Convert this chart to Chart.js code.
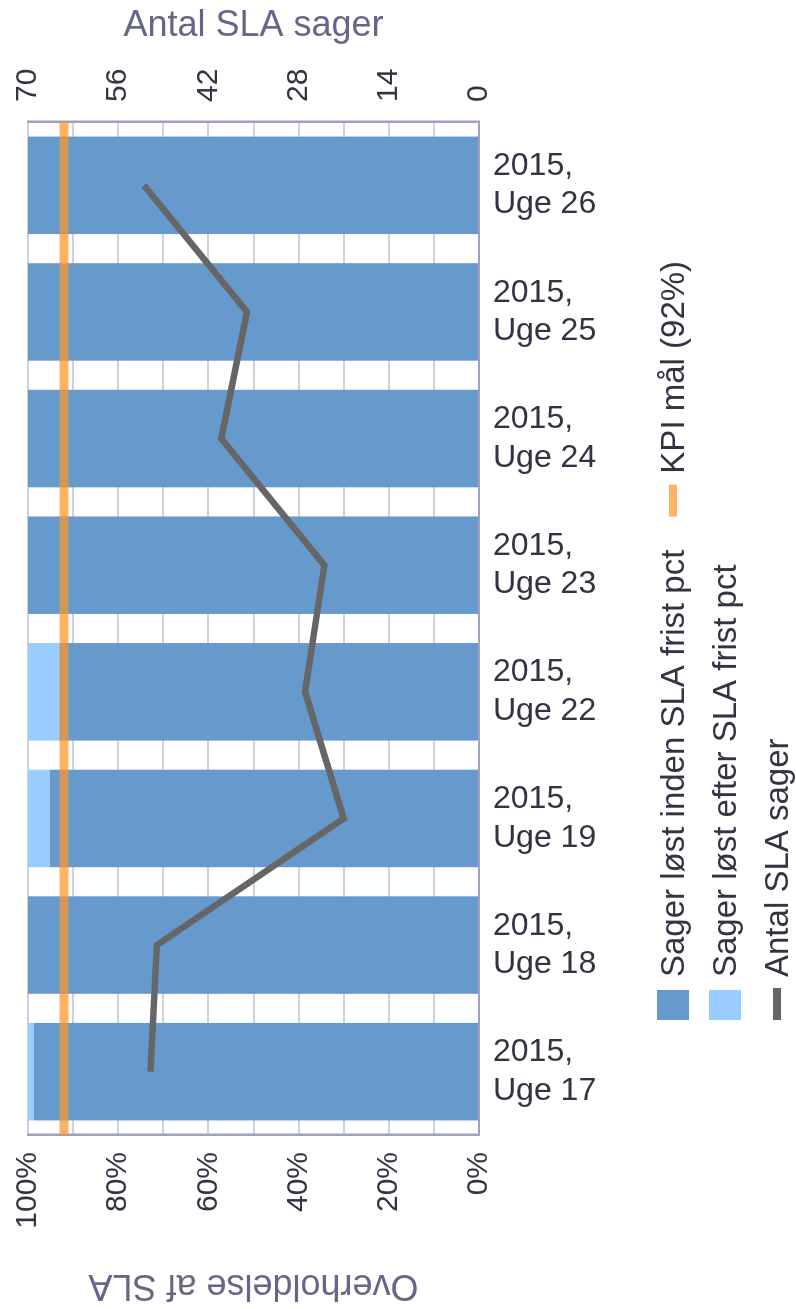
<!DOCTYPE html>
<html>
<head>
<meta charset="utf-8">
<script src="https://cdn.jsdelivr.net/npm/chart.js@4/dist/chart.umd.min.js"></script>
<style>
  html, body { margin: 0; padding: 0; background: #fff; overflow: hidden; }
  body { width: 796px; height: 1309px; position: relative; }
  /* the chart is laid out as a normal column chart and then turned a quarter left */
  #wrap {
    position: absolute; left: 0; top: 0;
    width: 1309px; height: 796px;
    transform-origin: 0 0;
    transform: translate(0, 1309px) rotate(-90deg);
  }
</style>
</head>
<body>
<div id="wrap"><canvas id="chart" width="1309" height="796"></canvas></div>
<script>
// data, left to right in the unrotated chart
const weeks = [
  ["2015,", "Uge 17"], ["2015,", "Uge 18"], ["2015,", "Uge 19"], ["2015,", "Uge 22"],
  ["2015,", "Uge 23"], ["2015,", "Uge 24"], ["2015,", "Uge 25"], ["2015,", "Uge 26"]
];
const losInden = [98.7, 100, 95.2, 93.0, 100, 100, 100, 100];
const losEfter = [1.3, 0, 4.8, 7.0, 0, 0, 0, 0];
const antalSager = [51, 50, 21, 27, 24, 40, 36, 52];
const kpiMaal = 92;
const pctTicks = [0, 20, 40, 60, 80, 100];
const antalTicks = [0, 14, 28, 42, 56, 70];

const FONT = "'Liberation Sans', Arial, sans-serif";
Chart.defaults.font.family = FONT;

const textDark = "#333344";
const titleColor = "#666688";
const darkBlue = "#6699cc";
const lightBlue = "#99ccff";
const lineGray = "#666666";
const kpiColor = "rgba(251,149,40,0.72)";

const legendItems = [
  { row: 0, text: "Sager løst inden SLA frist pct", kind: "box", color: darkBlue },
  { row: 0, text: "KPI mål (92%)", kind: "line", color: kpiColor },
  { row: 1, text: "Sager løst efter SLA frist pct", kind: "box", color: lightBlue },
  { row: 2, text: "Antal SLA sager", kind: "line", color: lineGray }
];

// week labels, turned so they read level after the page rotation
const weekLabelPlugin = {
  id: "weekLabels",
  afterDraw(chart) {
    const ctx = chart.ctx;
    const xs = chart.scales.x;
    const top = chart.chartArea.bottom + 14;
    const lh = 38.5;
    ctx.save();
    ctx.font = "32px " + FONT;
    ctx.fillStyle = textDark;
    ctx.textAlign = "left";
    ctx.textBaseline = "middle";
    weeks.forEach((lines, i) => {
      const x = xs.getPixelForTick(i);
      ctx.save();
      ctx.translate(x, top);
      ctx.rotate(Math.PI / 2);
      lines.forEach((t, j) => {
        ctx.fillText(t, 0, (j - (lines.length - 1) / 2) * lh);
      });
      ctx.restore();
    });
    ctx.restore();
  }
};

const legendPlugin = {
  id: "sideLegend",
  afterDraw(chart) {
    const ctx = chart.ctx;
    const rowY = [673, 725, 777];
    ctx.save();
    ctx.font = "33px " + FONT;
    ctx.textBaseline = "middle";
    ctx.textAlign = "left";
    let x = 289, lastRow = -1;
    legendItems.forEach((it) => {
      if (it.row !== lastRow) { x = 289; lastRow = it.row; }
      const y = rowY[it.row];
      ctx.fillStyle = it.color;
      if (it.kind === "box") {
        ctx.fillRect(x, y - 16, 30, 32);
      } else {
        ctx.fillRect(x, y - 4, 32, 8);
      }
      ctx.fillStyle = textDark;
      ctx.fillText(it.text, x + 43, y + 2);
      x += 43 + ctx.measureText(it.text).width + 33;
    });
    ctx.restore();
  }
};

new Chart(document.getElementById("chart"), {
  data: {
    labels: weeks,
    datasets: [
      {
        type: "line",
        label: "Antal SLA sager",
        data: antalSager,
        yAxisID: "y1",
        borderColor: lineGray,
        borderWidth: 6.5,
        pointRadius: 0,
        tension: 0,
        order: 1
      },
      {
        type: "line",
        label: "KPI mål (92%)",
        data: [{ x: 0, y: kpiMaal }, { x: 1, y: kpiMaal }],
        xAxisID: "xk",
        yAxisID: "y",
        borderColor: kpiColor,
        borderWidth: 9,
        pointRadius: 0,
        order: 2
      },
      {
        type: "bar",
        label: "Sager løst inden SLA frist pct",
        data: losInden,
        xAxisID: "x",
        yAxisID: "y",
        stack: "pct",
        grouped: false,
        backgroundColor: darkBlue,
        barPercentage: 0.77,
        categoryPercentage: 1,
        order: 3
      },
      {
        type: "bar",
        label: "Sager løst efter SLA frist pct",
        data: losEfter,
        xAxisID: "x",
        yAxisID: "y",
        stack: "pct",
        grouped: false,
        backgroundColor: lightBlue,
        barPercentage: 0.77,
        categoryPercentage: 1,
        order: 4
      }
    ]
  },
  options: {
    responsive: false,
    animation: false,
    layout: { padding: { top: 28, left: 0, right: 0, bottom: 0 } },
    plugins: {
      legend: { display: false },
      tooltip: { enabled: false }
    },
    scales: {
      x: {
        stacked: true,
        grid: { display: false },
        border: { display: true, color: "#a0a0c0", width: 2 },
        ticks: { display: false },
        afterFit(scale) { scale.height = 317; }
      },
      xk: {
        type: "linear",
        display: false,
        min: 0,
        max: 1
      },
      y: {
        stacked: true,
        position: "left",
        min: 0,
        max: 100,
        grid: {
          color: "#d0d0e0", lineWidth: 2,
          drawTicks: true, tickLength: 17, tickColor: "rgba(0,0,0,0)"
        },
        border: { display: true, color: "#a0a0c0", width: 2.5 },
        ticks: {
          stepSize: 10,
          padding: 0,
          color: textDark,
          font: { size: 30 },
          callback: (v) => (pctTicks.includes(v) ? v + "%" : "")
        },
        title: {
          display: true,
          text: "Overholdelse af SLA",
          color: titleColor,
          font: { size: 36 },
          padding: { top: 2, bottom: 0 }
        },
        afterFit(scale) { scale.width = 174; }
      },
      y1: {
        position: "right",
        min: 0,
        max: 70,
        grid: {
          display: true, drawOnChartArea: false,
          drawTicks: true, tickLength: 20, tickColor: "rgba(0,0,0,0)"
        },
        border: { display: true, color: "#a0a0c0", width: 2.5 },
        ticks: {
          stepSize: 7,
          padding: 0,
          color: textDark,
          font: { size: 30 },
          callback: (v) => (antalTicks.includes(v) ? String(v) : "")
        },
        title: {
          display: true,
          text: "Antal SLA sager",
          color: titleColor,
          font: { size: 36 },
          padding: { top: 4, bottom: 0 }
        },
        afterFit(scale) { scale.width = 122; }
      }
    }
  },
  plugins: [weekLabelPlugin, legendPlugin]
});
</script>
</body>
</html>
